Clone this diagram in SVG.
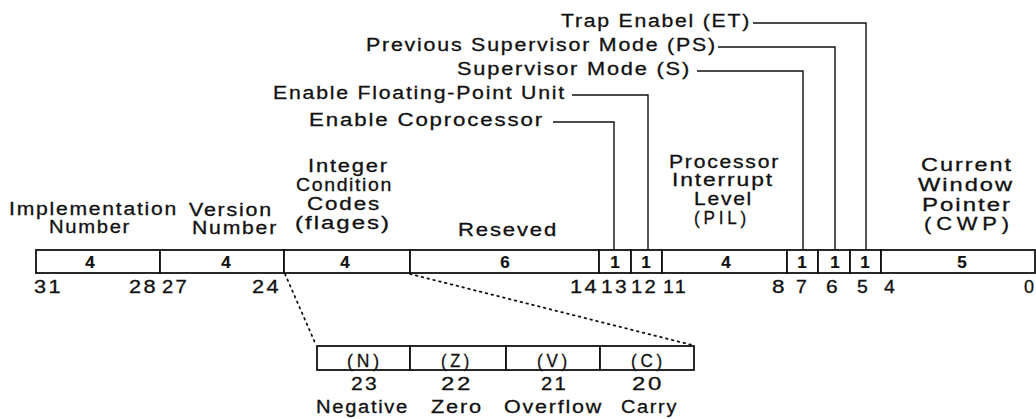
<svg xmlns="http://www.w3.org/2000/svg" width="1036" height="419" viewBox="0 0 1036 419">
<style>
  text { font-family: "Liberation Sans", Arial, Helvetica, sans-serif; fill: #111; stroke: #111; stroke-width: 0.3px; }
  .lbl { font-size: 18px; letter-spacing: 1.5px; }
  .pl { font-size: 18px; letter-spacing: 4px; }
  .bit { font-size: 18px; letter-spacing: 2px; }
  .w { font-size: 17px; font-weight: bold; text-anchor: middle; stroke-width: 0.2px; }
  .cell { fill: #fff; stroke: #111; stroke-width: 1.8; }
  .conn { fill: none; stroke: #111; stroke-width: 1.4; }
  .dot { fill: none; stroke: #111; stroke-width: 1.8; stroke-dasharray: 1.6 4.4; stroke-linecap: round; }
</style>

<g id="connectors">
  <polyline class="conn" points="553,122 614,122 614,250"/>
  <polyline class="conn" points="572,95 648,95 648,250"/>
  <polyline class="conn" points="697,71 803,71 803,250"/>
  <polyline class="conn" points="718,47 835,47 835,250"/>
  <polyline class="conn" points="753,23 866,23 866,250"/>
  <line class="dot" x1="285" y1="274" x2="316" y2="345"/>
  <line class="dot" x1="410" y1="274" x2="692" y2="345"/>
</g>

<g id="top-labels">
  <text class="lbl" x="561" y="27" textLength="190" lengthAdjust="spacingAndGlyphs">Trap Enabel (ET)</text>
  <text class="lbl" x="366" y="51" textLength="351" lengthAdjust="spacingAndGlyphs">Previous Supervisor Mode (PS)</text>
  <text class="lbl" x="457" y="75" textLength="234" lengthAdjust="spacingAndGlyphs">Supervisor Mode (S)</text>
  <text class="lbl" x="273" y="99" textLength="293" lengthAdjust="spacingAndGlyphs">Enable Floating-Point Unit</text>
  <text class="lbl" x="309" y="126" textLength="235" lengthAdjust="spacingAndGlyphs">Enable Coprocessor</text>
</g>

<g id="field-impl">
  <rect class="cell" x="36" y="250" width="124" height="23"/>
  <text class="w" x="90" y="268">4</text>
  <text class="lbl" x="9" y="215" textLength="169" lengthAdjust="spacingAndGlyphs">Implementation</text>
  <text class="lbl" x="49" y="233" textLength="82" lengthAdjust="spacingAndGlyphs">Number</text>
</g>

<g id="field-version">
  <rect class="cell" x="160" y="250" width="124" height="23"/>
  <text class="w" x="226" y="268">4</text>
  <text class="lbl" x="189" y="216" textLength="84" lengthAdjust="spacingAndGlyphs">Version</text>
  <text class="lbl" x="192" y="234" textLength="86" lengthAdjust="spacingAndGlyphs">Number</text>
</g>

<g id="field-icc">
  <rect class="cell" x="284" y="250" width="126" height="23"/>
  <text class="w" x="345" y="268">4</text>
  <text class="lbl" x="308" y="172" textLength="81" lengthAdjust="spacingAndGlyphs">Integer</text>
  <text class="lbl" x="296" y="191" textLength="97" lengthAdjust="spacingAndGlyphs">Condition</text>
  <text class="lbl" x="307" y="210" textLength="74" lengthAdjust="spacingAndGlyphs">Codes</text>
  <text class="lbl" x="295" y="229" textLength="96" lengthAdjust="spacingAndGlyphs">(flages)</text>
</g>

<g id="field-reserved">
  <rect class="cell" x="410" y="250" width="189" height="23"/>
  <text class="w" x="505" y="268">6</text>
  <text class="lbl" x="458" y="236" textLength="100" lengthAdjust="spacingAndGlyphs">Reseved</text>
</g>

<g id="field-ec">
  <rect class="cell" x="599" y="250" width="32" height="23"/>
  <text class="w" x="615" y="268">1</text>
</g>

<g id="field-ef">
  <rect class="cell" x="631" y="250" width="31" height="23"/>
  <text class="w" x="646" y="268">1</text>
</g>

<g id="field-pil">
  <rect class="cell" x="662" y="250" width="125" height="23"/>
  <text class="w" x="726" y="268">4</text>
  <text class="lbl" x="669" y="168" textLength="111" lengthAdjust="spacingAndGlyphs">Processor</text>
  <text class="lbl" x="672" y="186" textLength="102" lengthAdjust="spacingAndGlyphs">Interrupt</text>
  <text class="lbl" x="694" y="205" textLength="59" lengthAdjust="spacingAndGlyphs">Level</text>
  <text class="pl" x="694" y="224" textLength="56" lengthAdjust="spacingAndGlyphs">(PIL)</text>
</g>

<g id="field-s">
  <rect class="cell" x="787" y="250" width="31" height="23"/>
  <text class="w" x="802" y="268">1</text>
</g>

<g id="field-ps">
  <rect class="cell" x="818" y="250" width="32" height="23"/>
  <text class="w" x="835" y="268">1</text>
</g>

<g id="field-et">
  <rect class="cell" x="850" y="250" width="31" height="23"/>
  <text class="w" x="865" y="268">1</text>
</g>

<g id="field-cwp">
  <rect class="cell" x="881" y="250" width="154" height="23"/>
  <text class="w" x="962" y="268">5</text>
  <text class="lbl" x="921" y="171" textLength="92" lengthAdjust="spacingAndGlyphs">Current</text>
  <text class="lbl" x="918" y="191" textLength="96" lengthAdjust="spacingAndGlyphs">Window</text>
  <text class="lbl" x="922" y="211" textLength="90" lengthAdjust="spacingAndGlyphs">Pointer</text>
  <text class="pl" x="924" y="230" textLength="90" lengthAdjust="spacingAndGlyphs">(CWP)</text>
</g>

<g id="bit-numbers">
  <text class="bit" x="34" y="293" textLength="29" lengthAdjust="spacingAndGlyphs">31</text>
  <text class="bit" x="129" y="293" textLength="29" lengthAdjust="spacingAndGlyphs">28</text>
  <text class="bit" x="162" y="293" textLength="27" lengthAdjust="spacingAndGlyphs">27</text>
  <text class="bit" x="252" y="293" textLength="29" lengthAdjust="spacingAndGlyphs">24</text>
  <text class="bit" x="570" y="293" textLength="29" lengthAdjust="spacingAndGlyphs">14</text>
  <text class="bit" x="601" y="293" textLength="28" lengthAdjust="spacingAndGlyphs">13</text>
  <text class="bit" x="631" y="293" textLength="27" lengthAdjust="spacingAndGlyphs">12</text>
  <text class="bit" x="663" y="293" textLength="25" lengthAdjust="spacingAndGlyphs">11</text>
  <text class="bit" x="772" y="293" textLength="15" lengthAdjust="spacingAndGlyphs">8</text>
  <text class="bit" x="796" y="293" textLength="13" lengthAdjust="spacingAndGlyphs">7</text>
  <text class="bit" x="826" y="293" textLength="14" lengthAdjust="spacingAndGlyphs">6</text>
  <text class="bit" x="857" y="293" textLength="13" lengthAdjust="spacingAndGlyphs">5</text>
  <text class="bit" x="884" y="293" textLength="13" lengthAdjust="spacingAndGlyphs">4</text>
  <text class="bit" x="1024" y="293" textLength="12" lengthAdjust="spacingAndGlyphs">0</text>
</g>

<g id="flag-n">
  <rect class="cell" x="317" y="346" width="93" height="24"/>
  <text class="pl" x="347" y="367" textLength="36" lengthAdjust="spacingAndGlyphs">(N)</text>
  <text class="bit" x="351" y="390" textLength="28" lengthAdjust="spacingAndGlyphs">23</text>
  <text class="lbl" x="316" y="413" textLength="93" lengthAdjust="spacingAndGlyphs">Negative</text>
</g>

<g id="flag-z">
  <rect class="cell" x="410" y="346" width="96" height="24"/>
  <text class="pl" x="441" y="367" textLength="32" lengthAdjust="spacingAndGlyphs">(Z)</text>
  <text class="bit" x="441" y="390" textLength="32" lengthAdjust="spacingAndGlyphs">22</text>
  <text class="lbl" x="431" y="413" textLength="52" lengthAdjust="spacingAndGlyphs">Zero</text>
</g>

<g id="flag-v">
  <rect class="cell" x="506" y="346" width="94" height="24"/>
  <text class="pl" x="537" y="367" textLength="34" lengthAdjust="spacingAndGlyphs">(V)</text>
  <text class="bit" x="541" y="390" textLength="27" lengthAdjust="spacingAndGlyphs">21</text>
  <text class="lbl" x="504" y="413" textLength="99" lengthAdjust="spacingAndGlyphs">Overflow</text>
</g>

<g id="flag-c">
  <rect class="cell" x="600" y="346" width="94" height="24"/>
  <text class="pl" x="631" y="367" textLength="35" lengthAdjust="spacingAndGlyphs">(C)</text>
  <text class="bit" x="632" y="390" textLength="32" lengthAdjust="spacingAndGlyphs">20</text>
  <text class="lbl" x="621" y="413" textLength="57" lengthAdjust="spacingAndGlyphs">Carry</text>
</g>
</svg>
